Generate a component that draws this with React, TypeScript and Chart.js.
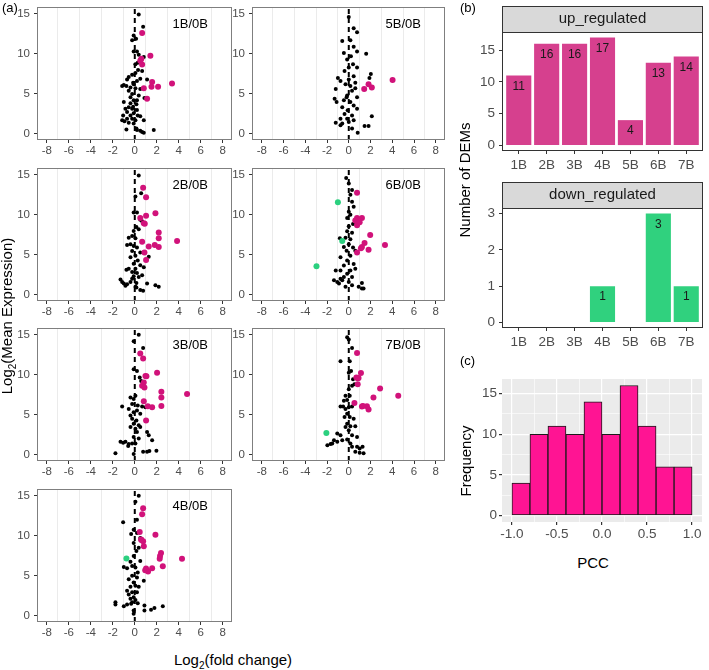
import React, { useEffect, useRef } from 'react';
import { Chart, registerables } from 'chart.js';
Chart.register(...registerables);

const FONT = '"Liberation Sans", Arial, Helvetica, sans-serif';
const TICK_COLOR = '#4D4D4D';
const MAGENTA = '#D1127A';
const GREEN = '#2BD07F';

// ---- scatter panels (a) ----
const xTickVals = [-8, -6, -4, -2, 0, 2, 4, 6, 8];
const xMinorVals = [-7, -5, -3, -1, 1, 3, 5, 7];
const yTickVals = [0, 5, 10, 15];

const bg1B = [[0.36,14.9],[0.76,13.4],[-0.1,12.3],[0.12,11.9],[-0.24,11.7],[-0.1,10.3],[0.2,10.3],[0.36,9.9],[0.82,9.6],[0.5,9.3],[0.27,8.9],[0.06,8.7],[0.3,8.0],[0.67,7.85],[0.06,7.6],[-0.24,7.4],[-0.55,7.1],[-0.7,6.8],[1.12,6.8],[0.5,6.9],[-0.15,6.4],[0.2,6.6],[-1.0,6.1],[-1.15,6.0],[-0.76,6.0],[-0.39,5.8],[-0.1,6.2],[0.06,5.7],[0.5,5.6],[-0.55,5.4],[-0.24,5.0],[0.36,4.8],[-0.39,4.6],[0.88,4.5],[-0.1,4.2],[0.2,4.2],[-1.0,4.0],[-0.39,3.85],[0.15,3.7],[-0.15,3.4],[-0.55,3.35],[-0.85,3.15],[-0.24,3.15],[0.2,3.0],[-0.7,2.75],[-0.1,2.6],[-1.06,2.3],[-0.39,2.3],[0.27,2.3],[0.5,2.2],[-0.7,1.9],[-0.24,1.9],[-1.15,1.7],[-0.94,1.6],[0.06,1.7],[-0.55,1.4],[-0.1,1.3],[0.82,1.7],[-0.76,0.57],[0.2,0.5],[0.5,0.4],[0.82,0.16],[0.67,0.25],[1.73,0.5],[0.15,0.7]];
const up1B = [[0.67,12.6],[1.42,9.77],[0.5,9.15],[0.67,8.66],[1.58,6.5],[3.39,6.3],[0.82,5.7],[1.52,5.9],[2.12,5.9],[1.12,4.4],[0.6,9.4]];
const down1B: number[][] = [];

const bg2B = [[0.36,14.9],[0.58,12.7],[0.06,12.3],[-0.1,10.3],[0.2,10.3],[0.5,9.4],[0.67,9.2],[0.15,8.5],[-0.1,8.0],[0.36,8.2],[-0.24,7.35],[-0.55,7.15],[0.06,7.07],[-0.7,6.25],[-0.39,6.33],[-0.1,6.13],[0.2,5.93],[-0.24,5.5],[0.5,5.3],[0.06,4.9],[-0.39,4.7],[1.27,4.78],[0.27,4.3],[-0.1,3.9],[0.5,3.7],[-0.55,3.27],[-0.76,3.15],[0.06,3.27],[0.82,3.47],[-0.24,2.86],[0.2,2.74],[-0.1,2.33],[0.36,2.25],[0.67,2.45],[-1.3,1.92],[-1.15,1.63],[-1.0,1.43],[-0.7,1.35],[-0.39,1.63],[-0.24,2.04],[0.15,1.51],[-0.85,1.14],[1.12,1.43],[1.88,1.23],[2.18,1.02],[0.06,1.02],[0.5,0.61],[0.76,0.53],[0.15,0.94]];
const up2B = [[0.76,13.4],[1.03,12.2],[1.03,9.9],[1.88,10.2],[0.82,8.95],[0.91,8.9],[2.18,7.8],[2.18,7.07],[3.85,6.74],[0.67,6.66],[1.27,6.05],[1.82,6.25],[2.18,6.0],[0.88,5.3],[1.03,4.37],[0.5,9.6]];
const down2B: number[][] = [];

const bg3B = [[0.36,15.0],[0.76,13.36],[-0.1,14.2],[-0.1,10.7],[0.2,10.48],[0.45,9.66],[0.58,9.25],[-0.39,7.19],[-0.1,6.99],[0.06,7.4],[-1.15,6.04],[-0.24,6.37],[0.27,6.17],[0.67,6.04],[-0.55,5.75],[-0.1,5.34],[0.2,5.55],[-0.39,4.93],[0.5,5.14],[-0.24,4.52],[0.15,4.32],[-0.1,3.9],[0.36,3.7],[-0.39,3.49],[0.06,3.29],[0.5,3.49],[0.2,2.88],[1.12,2.88],[1.27,2.47],[1.58,1.85],[-0.1,2.26],[0.36,2.06],[-1.3,1.64],[-1.06,1.52],[-0.85,1.64],[-0.55,1.36],[-0.24,1.44],[0.06,1.44],[-0.6,1.11],[-1.76,0.21],[-0.1,0.12],[0.76,0.41],[1.12,0.41],[1.33,0.49],[1.97,0.53],[0.97,5.96]];
const up3B = [[0.5,12.66],[0.76,12.04],[0.97,9.86],[1.06,9.82],[2.03,10.27],[0.82,9.04],[0.67,8.63],[2.42,7.89],[2.42,7.19],[4.76,7.6],[0.82,6.7],[1.18,6.08],[1.58,5.96],[2.42,6.12],[1.03,4.32],[0.88,8.43]];
const down3B: number[][] = [];

const bg4B = [[0.36,15.0],[0.06,14.26],[-1.06,11.71],[0.2,12.0],[-0.1,10.77],[-0.33,10.23],[0.2,10.36],[0.5,9.74],[-0.1,9.12],[0.36,8.51],[0.15,8.1],[-0.1,7.48],[-0.39,6.78],[0.5,6.86],[-1.0,6.12],[-0.7,5.96],[-0.24,6.25],[0.06,6.04],[0.27,5.43],[-0.24,5.01],[0.2,4.81],[-0.55,4.6],[0.82,4.4],[-0.1,4.19],[0.06,3.78],[0.36,3.66],[-0.39,3.66],[-0.7,3.16],[-0.24,2.96],[0.2,2.96],[-0.55,2.67],[-0.1,2.34],[-0.39,2.14],[0.06,2.01],[-0.24,1.73],[-1.76,1.73],[-1.76,1.44],[-1.0,1.23],[-0.7,1.44],[-0.33,1.52],[0.27,1.6],[0.88,1.32],[0.88,0.7],[1.48,0.78],[1.79,0.99],[2.55,1.23],[-0.1,0.7],[-0.1,0.29]];
const up4B = [[0.76,13.44],[0.67,12.7],[0.45,10.48],[1.88,10.15],[0.58,9.54],[0.76,9.33],[0.82,8.71],[2.39,7.85],[2.27,7.15],[4.3,7.15],[2.55,6.21],[1.03,5.92],[1.21,5.55],[1.58,5.96],[0.95,5.7],[0.6,9.5],[2.3,7.5]];
const down4B = [[-0.76,7.19]];

const bg5B = [[0,14.6],[0.45,13.2],[0.76,12.7],[-0.6,11.6],[0.15,11.7],[-0.45,10.1],[0.45,10.9],[0.76,10.3],[1.6,10.0],[0.2,9.7],[-0.15,9.3],[0.39,8.7],[0.76,8.3],[-0.39,7.85],[-1.0,7.0],[-0.76,6.6],[0,6.8],[0.45,7.2],[2.03,7.5],[1.9,7.0],[-0.3,6.2],[0.15,6.0],[0.6,5.7],[-1.2,5.6],[0.3,5.4],[-0.15,4.8],[0.76,4.6],[-1.3,4.4],[-1.12,4.0],[-0.45,4.2],[0.15,4.0],[0.45,3.55],[-0.6,3.35],[-0.1,2.95],[0.76,3.15],[-0.39,2.5],[0.3,2.3],[2.12,2.2],[-0.76,1.9],[-0.15,1.9],[-1.2,1.4],[-0.6,1.3],[0,1.5],[1.45,1.0],[1.82,1.0],[0.82,0.16],[0.3,0.7],[-0.76,1.1],[0.45,1.7],[-0.2,4.6],[0.6,6.4],[0,8.3]];
const up5B = [[1.42,5.6],[1.82,6.2],[2.12,5.8],[4.03,6.74]];
const down5B: number[][] = [];

const bg6B = [[-0.24,14.6],[0,13.9],[0.3,13.1],[0.15,12.5],[0.3,11.65],[0.45,11.0],[0,10.4],[0.15,10.0],[-0.15,9.6],[0.39,8.87],[0,8.58],[-0.15,7.97],[0.3,7.76],[-0.82,7.07],[-0.3,7.15],[0.15,6.95],[0,6.33],[-0.45,6.0],[0.39,5.93],[-0.2,5.52],[0.6,5.52],[-0.76,4.7],[0.15,4.9],[-0.15,4.29],[0.45,3.88],[-0.45,3.68],[-1.2,3.07],[-0.76,3.07],[0.15,3.07],[0.6,3.27],[-0.15,2.66],[-0.45,2.25],[0.3,2.25],[-1.36,1.84],[-1.06,1.63],[-0.9,1.43],[-0.6,1.84],[0,1.63],[1.21,1.51],[0.91,1.02],[1.21,0.82],[1.36,0.82],[0.3,1.23],[-0.3,1.02],[-0.76,2.04]];
const up6B = [[0.76,12.75],[0.76,9.6],[1.21,9.6],[0.76,8.7],[1.97,7.48],[1.45,6.5],[1.21,6.0],[1.12,5.84],[1.82,5.64],[0.76,5.3],[3.33,6.25],[0.6,9.3],[1.0,9.07]];
const down6B = [[-1.0,11.57],[-0.6,6.74],[-2.97,3.6]];

const bg7B = [[-0.15,14.71],[0,14.4],[0.3,13.36],[-0.76,11.71],[0.09,11.71],[0.21,10.48],[0,10.27],[0.39,9.45],[0.52,8.84],[0.3,8.63],[0,8.22],[-0.3,7.4],[0.09,7.4],[-0.45,6.78],[-0.15,6.86],[-0.76,6.04],[-0.52,6.04],[-0.3,5.75],[0,5.96],[0.3,6.04],[-0.15,5.14],[-0.39,4.73],[0.09,4.73],[0.45,4.52],[-0.15,3.9],[0.15,3.58],[-0.3,3.49],[0.6,3.58],[0,3.08],[-1.06,2.67],[-0.76,2.47],[0.3,2.47],[0.76,2.26],[-1.36,1.85],[-1.06,1.64],[-1.52,1.44],[-1.97,1.23],[-1.67,1.36],[-0.6,1.85],[-0.15,1.93],[0.3,1.03],[0.76,1.03],[1.0,0.82],[1.27,1.03],[0.6,0.41],[1.0,0.29],[1.36,0.21],[0.15,1.44]];
const up7B = [[0.76,12.74],[1.12,10.23],[0.7,9.66],[0.82,9.58],[0.82,8.84],[2.88,8.3],[2.27,7.19],[4.55,7.4],[0.52,6.49],[1.21,6.04],[1.67,6.08],[1.82,5.67],[0.9,9.6],[1.3,6.1]];
const down7B = [[-2.06,2.75]];

// ---- bar panels (b) ----
const categories = ['1B', '2B', '3B', '4B', '5B', '6B', '7B'];
const upCounts = [11, 16, 16, 17, 4, 13, 14];
const downCounts = [0, 0, 0, 1, 0, 3, 1];
const upTicks = [0, 5, 10, 15];
const downTicks = [0, 1, 2, 3];

// ---- histogram (c) ----
const pccBinCenters = [-0.9, -0.7, -0.5, -0.3, -0.1, 0.1, 0.3, 0.5, 0.7, 0.9];
const pccCounts = [4, 10, 11, 10, 14, 10, 16, 11, 6, 6];
const pccTicks = [-1, -0.5, 0, 0.5, 1];
const pccMinor = [-0.75, -0.25, 0.25, 0.75];
const freqTicks = [0, 5, 10, 15];
const freqMinor = [2.5, 7.5, 12.5];

const CLEAR = 'rgba(0,0,0,0)';

function fixFit(size: number, horiz: boolean) {
  return (s: any) => {
    if (horiz) s.height = size; else s.width = size;
    s.paddingTop = 0; s.paddingBottom = 0; s.paddingLeft = 0; s.paddingRight = 0;
  };
}
function setTicks(vals: number[]) {
  return (s: any) => { s.ticks = vals.map((v) => ({ value: v })); };
}

function framePlugin(color: string) {
  return {
    id: 'frame',
    afterDraw(chart: any) {
      const { ctx, chartArea: a } = chart;
      ctx.save();
      ctx.strokeStyle = color;
      ctx.lineWidth = 1;
      ctx.strokeRect(a.left + 0.5, a.top + 0.5, a.right - a.left - 1, a.bottom - a.top - 1);
      ctx.restore();
    },
  };
}
function panelLabelPlugin(text: string) {
  return {
    id: 'panelLabel',
    afterDraw(chart: any) {
      const { ctx, chartArea: a } = chart;
      ctx.save();
      ctx.font = `13px ${FONT}`;
      ctx.fillStyle = '#000';
      ctx.textAlign = 'right';
      ctx.textBaseline = 'middle';
      ctx.fillText(text, a.right - 24, a.top + 17);
      ctx.restore();
    },
  };
}
function stripPlugin(text: string, h: number) {
  return {
    id: 'strip',
    afterDraw(chart: any) {
      const { ctx, chartArea: a } = chart;
      ctx.save();
      ctx.fillStyle = '#D9D9D9';
      ctx.fillRect(a.left, a.top - h, a.right - a.left, h);
      ctx.strokeStyle = '#333';
      ctx.lineWidth = 1;
      ctx.strokeRect(a.left + 0.5, a.top - h + 0.5, a.right - a.left - 1, h);
      ctx.fillStyle = '#1A1A1A';
      ctx.font = `15px ${FONT}`;
      ctx.textAlign = 'center';
      ctx.textBaseline = 'middle';
      ctx.fillText(text, (a.left + a.right) / 2, a.top - h / 2);
      ctx.restore();
    },
  };
}
const barLabelPlugin = {
  id: 'barLabels',
  afterDatasetsDraw(chart: any) {
    const { ctx } = chart;
    const meta = chart.getDatasetMeta(0);
    const vals = chart.data.datasets[0].data;
    ctx.save();
    ctx.font = `12px ${FONT}`;
    ctx.fillStyle = '#1A1A1A';
    ctx.textAlign = 'center';
    ctx.textBaseline = 'middle';
    meta.data.forEach((el: any, i: number) => {
      const v = vals[i].y;
      if (v > 0) ctx.fillText(String(v), el.x, el.y + 11);
    });
    ctx.restore();
  },
};
function bgPlugin(color: string) {
  return {
    id: 'panelBg',
    beforeDraw(chart: any) {
      const { ctx, chartArea: a } = chart;
      ctx.save();
      ctx.fillStyle = color;
      ctx.fillRect(a.left, a.top, a.right - a.left, a.bottom - a.top);
      ctx.restore();
    },
  };
}

const SC_YMIN = -0.75;
const SC_YMAX = 15.85;
const allX = [...xTickVals, ...xMinorVals].sort((a, b) => a - b);

function scatterConfig(label: string, bg: number[][], up: number[][], down: number[][]) {
  const pts = (a: number[][]) => a.map(([x, y]) => ({ x, y }));
  return {
    type: 'scatter',
    data: {
      datasets: [
        { data: pts(down), pointRadius: 3, pointBackgroundColor: GREEN, backgroundColor: GREEN, pointBorderWidth: 0, borderWidth: 0, order: 0 },
        { data: pts(up), pointRadius: 3, pointBackgroundColor: MAGENTA, backgroundColor: MAGENTA, pointBorderWidth: 0, borderWidth: 0, order: 1 },
        { data: pts(bg), pointRadius: 2, pointBackgroundColor: '#000', backgroundColor: '#000', pointBorderWidth: 0, borderWidth: 0, order: 2 },
        {
          type: 'line', showLine: true,
          data: [{ x: 0, y: SC_YMIN }, { x: 0, y: SC_YMAX }],
          borderColor: '#000', borderWidth: 2, borderDash: [5, 4], pointRadius: 0, order: 3,
        },
      ],
    },
    options: {
      animation: false, responsive: false, events: [],
      layout: { padding: { top: 2, right: 4, left: 0, bottom: 0 } },
      plugins: { legend: { display: false }, tooltip: { enabled: false } },
      scales: {
        x: {
          type: 'linear', min: -8.9, max: 8.85,
          afterBuildTicks: setTicks(allX),
          afterFit: fixFit(18, true),
          ticks: {
            autoSkip: false, maxRotation: 0, minRotation: 0, padding: 1, color: TICK_COLOR,
            font: { family: FONT, size: 11.5 },
            callback: (v: number) => (xTickVals.includes(v) ? String(v) : ''),
          },
          grid: {
            color: (c: any) => (c.tick && xMinorVals.includes(c.tick.value) ? '#EBEBEB' : CLEAR),
            tickColor: (c: any) => (c.tick && xTickVals.includes(c.tick.value) ? '#333' : CLEAR),
            tickLength: 3, lineWidth: 1,
          },
          border: { display: false },
        },
        y: {
          type: 'linear', min: SC_YMIN, max: SC_YMAX,
          afterBuildTicks: setTicks(yTickVals),
          afterFit: fixFit(34, false),
          ticks: {
            autoSkip: false, padding: 4, color: TICK_COLOR,
            font: { family: FONT, size: 11.5 },
            callback: (v: number) => String(v),
          },
          grid: { color: CLEAR, tickColor: '#333', tickLength: 3 },
          border: { display: false },
        },
      },
    },
    plugins: [framePlugin('#7F7F7F'), panelLabelPlugin(label)],
  };
}

function barConfig(values: number[], color: string, yTicks: number[], yMin: number, yMax: number, strip: string) {
  return {
    type: 'bar',
    data: {
      datasets: [{
        data: values.map((v, i) => ({ x: i + 1, y: v })),
        backgroundColor: color, borderWidth: 0, barPercentage: 0.9, categoryPercentage: 1,
      }],
    },
    options: {
      animation: false, responsive: false, events: [],
      layout: { padding: { top: 28, right: 4, left: 0, bottom: 0 } },
      plugins: { legend: { display: false }, tooltip: { enabled: false } },
      scales: {
        x: {
          type: 'linear', min: 0.4, max: 7.6, offset: false,
          afterBuildTicks: setTicks(categories.map((_, i) => i + 1)),
          afterFit: fixFit(24, true),
          ticks: {
            autoSkip: false, maxRotation: 0, minRotation: 0, padding: 3, color: TICK_COLOR,
            font: { family: FONT, size: 13.5 },
            callback: (v: number) => categories[v - 1],
          },
          grid: { color: CLEAR, tickColor: '#333', tickLength: 3, offset: false },
          border: { display: false },
        },
        y: {
          type: 'linear', min: yMin, max: yMax,
          afterBuildTicks: setTicks(yTicks),
          afterFit: fixFit(30, false),
          ticks: {
            autoSkip: false, padding: 4, color: TICK_COLOR,
            font: { family: FONT, size: 13.5 },
            callback: (v: number) => String(v),
          },
          grid: { color: CLEAR, tickColor: '#333', tickLength: 3 },
          border: { display: false },
        },
      },
    },
    plugins: [framePlugin('#333'), stripPlugin(strip, 26), barLabelPlugin],
  };
}

function histConfig() {
  const allPx = [...pccTicks, ...pccMinor].sort((a, b) => a - b);
  const allFy = [...freqTicks, ...freqMinor].sort((a, b) => a - b);
  return {
    type: 'bar',
    data: {
      datasets: [{
        data: pccBinCenters.map((c, i) => ({ x: c, y: pccCounts[i] })),
        backgroundColor: '#FF1493', borderColor: '#1A1A1A', borderWidth: 1, borderSkipped: false,
        barPercentage: 1, categoryPercentage: 1,
      }],
    },
    options: {
      animation: false, responsive: false, events: [],
      layout: { padding: { top: 4, right: 5, left: 0, bottom: 0 } },
      plugins: { legend: { display: false }, tooltip: { enabled: false } },
      scales: {
        x: {
          type: 'linear', min: -1.11, max: 1.11, offset: false,
          afterBuildTicks: setTicks(allPx),
          afterFit: fixFit(22, true),
          ticks: {
            autoSkip: false, maxRotation: 0, minRotation: 0, padding: 1, color: TICK_COLOR,
            font: { family: FONT, size: 13.5 },
            callback: (v: number) => (pccTicks.includes(v) ? v.toFixed(1) : ''),
          },
          grid: {
            color: '#FFFFFF',
            lineWidth: (c: any) => (c.tick && pccTicks.includes(c.tick.value) ? 1.2 : 0.6),
            tickColor: (c: any) => (c.tick && pccTicks.includes(c.tick.value) ? '#333' : CLEAR),
            tickLength: 3, offset: false,
          },
          border: { display: false },
        },
        y: {
          type: 'linear', min: -0.8, max: 16.8,
          afterBuildTicks: setTicks(allFy),
          afterFit: fixFit(30, false),
          ticks: {
            autoSkip: false, padding: 2, color: TICK_COLOR,
            font: { family: FONT, size: 13.5 },
            callback: (v: number) => (freqTicks.includes(v) ? String(v) : ''),
          },
          grid: {
            color: '#FFFFFF',
            lineWidth: (c: any) => (c.tick && freqTicks.includes(c.tick.value) ? 1.2 : 0.6),
            tickColor: (c: any) => (c.tick && freqTicks.includes(c.tick.value) ? '#333' : CLEAR),
            tickLength: 3,
          },
          border: { display: false },
        },
      },
    },
    plugins: [bgPlugin('#EBEBEB')],
  };
}

function ChartBox({ left, top, width, height, make }: { left: number; top: number; width: number; height: number; make: () => any }) {
  const ref = useRef<HTMLCanvasElement>(null);
  useEffect(() => {
    const chart = new Chart(ref.current as HTMLCanvasElement, make());
    return () => chart.destroy();
  }, []);
  return (
    <canvas
      ref={ref}
      width={width}
      height={height}
      style={{ position: 'absolute', left, top, width, height, display: 'block' }}
    />
  );
}

// plot-area rectangles (page px) for scatter panels
function scatterBox(L: number, T: number, R: number, B: number) {
  return { left: L - 34, top: T - 2, width: 34 + (R - L) + 4, height: 2 + (B - T) + 18 };
}

const scatterPanels = [
  { label: '1B/0B', bg: bg1B, up: up1B, down: down1B, rect: [37, 5, 232, 140] },
  { label: '5B/0B', bg: bg5B, up: up5B, down: down5B, rect: [252, 5, 445, 140] },
  { label: '2B/0B', bg: bg2B, up: up2B, down: down2B, rect: [37, 166, 232, 301] },
  { label: '6B/0B', bg: bg6B, up: up6B, down: down6B, rect: [252, 166, 445, 301] },
  { label: '3B/0B', bg: bg3B, up: up3B, down: down3B, rect: [37, 326, 232, 461] },
  { label: '7B/0B', bg: bg7B, up: up7B, down: down7B, rect: [252, 326, 445, 461] },
  { label: '4B/0B', bg: bg4B, up: up4B, down: down4B, rect: [37, 487, 232, 622] },
];

const txt: React.CSSProperties = { position: 'absolute', fontFamily: FONT, color: '#000', whiteSpace: 'nowrap', lineHeight: 1 };

export default function App() {
  return (
    <div style={{ position: 'absolute', left: 0, top: 0, width: 709, height: 670, background: '#fff', overflow: 'hidden' }}>
      {scatterPanels.map((p) => {
        const [L, T, R, B] = p.rect;
        const box = scatterBox(L, T, R, B);
        return <ChartBox key={p.label} {...box} make={() => scatterConfig(p.label, p.bg, p.up, p.down)} />;
      })}
      <ChartBox left={472} top={4} width={235} height={28 + 119 + 24} make={() => barConfig(upCounts, '#D6408E', upTicks, -0.85, 17.85, 'up_regulated')} />
      <ChartBox left={472} top={180} width={235} height={28 + 120 + 24} make={() => barConfig(downCounts, '#30D17E', downTicks, -0.15, 3.15, 'down_regulated')} />
      <ChartBox left={472} top={375} width={235} height={4 + 143 + 22} make={histConfig} />

      <div style={{ ...txt, left: 2, top: 1, fontSize: 13 }}>(a)</div>
      <div style={{ ...txt, left: 460, top: 1, fontSize: 13 }}>(b)</div>
      <div style={{ ...txt, left: 460, top: 354, fontSize: 13 }}>(c)</div>

      <div style={{ ...txt, left: 8, top: 316, fontSize: 15, transform: 'translate(-50%, -50%) rotate(-90deg)' }}>
        Log<sub style={{ fontSize: 10, verticalAlign: 'sub' }}>2</sub>(Mean Expression)
      </div>
      <div style={{ ...txt, left: 233, top: 661, fontSize: 15, transform: 'translate(-50%, -50%)' }}>
        Log<sub style={{ fontSize: 10, verticalAlign: 'sub' }}>2</sub>(fold change)
      </div>
      <div style={{ ...txt, left: 464, top: 180, fontSize: 15, transform: 'translate(-50%, -50%) rotate(-90deg)' }}>
        Number of DEMs
      </div>
      <div style={{ ...txt, left: 465, top: 461, fontSize: 15, transform: 'translate(-50%, -50%) rotate(-90deg)' }}>
        Frequency
      </div>
      <div style={{ ...txt, left: 593, top: 562, fontSize: 15, transform: 'translate(-50%, -50%)' }}>
        PCC
      </div>
    </div>
  );
}
